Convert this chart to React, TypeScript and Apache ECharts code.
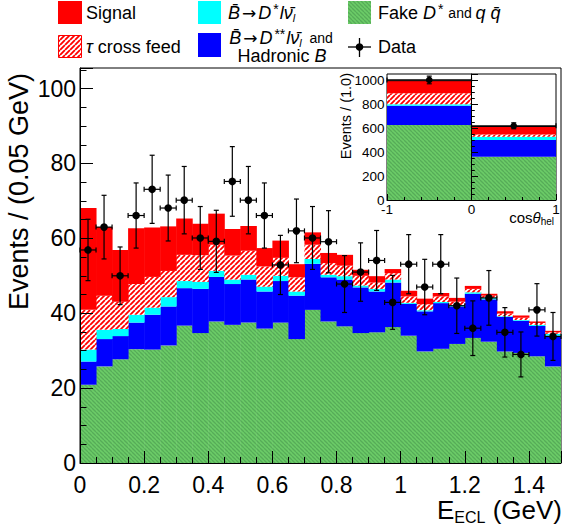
import React, { useEffect, useRef } from "react";
import * as echarts from "echarts";

const FONT = "'Liberation Sans', Arial, Helvetica, sans-serif";

// Main histogram: E_ECL bins (GeV)
const eEdges = [0, 0.05, 0.1, 0.15, 0.2, 0.25, 0.3, 0.35, 0.4, 0.45, 0.5, 0.55, 0.6, 0.65, 0.7, 0.75, 0.8, 0.85, 0.9, 0.95, 1.0, 1.05, 1.1, 1.15, 1.2, 1.25, 1.3, 1.35, 1.4, 1.45, 1.5];
// Cumulative (stacked) heights, bottom to top
const stackFake = [20.9, 25.8, 27.7, 30.4, 30.3, 31.4, 36.7, 34.7, 37.8, 36.9, 37.5, 35.9, 37.5, 33.1, 40.9, 37.8, 36.5, 34.7, 34.9, 36.3, 34.0, 29.8, 30.5, 31.8, 33.4, 32.4, 29.8, 29.4, 28.5, 25.8];
const stackHadB = [27.1, 33.1, 33.9, 37.5, 39.6, 41.8, 46.7, 46.5, 49.7, 47.8, 49.0, 45.8, 48.6, 44.7, 53.2, 49.6, 49.0, 46.9, 45.8, 48.2, 42.5, 40.5, 42.7, 41.8, 45.2, 43.7, 39.0, 38.0, 36.6, 34.0];
const stackDstar = [30.3, 35.6, 35.8, 39.6, 41.5, 44.3, 48.6, 48.4, 51.3, 49.0, 50.3, 47.1, 50.0, 45.8, 54.5, 50.3, 49.9, 47.4, 46.5, 49.0, 42.8, 40.8, 43.0, 42.2, 45.6, 44.1, 39.2, 38.2, 36.9, 34.5];
const stackTau = [40.9, 44.7, 43.1, 47.8, 49.7, 51.3, 55.6, 55.5, 58.3, 55.4, 56.7, 52.5, 54.8, 49.6, 58.3, 53.4, 52.7, 50.0, 48.2, 50.7, 44.5, 42.4, 44.5, 43.1, 46.5, 44.7, 39.9, 38.8, 37.4, 34.9];
const stackSignal = [68.1, 63.0, 56.9, 62.7, 62.9, 63.2, 65.3, 63.9, 66.6, 62.5, 63.3, 57.4, 59.4, 53.1, 61.6, 56.1, 55.6, 51.6, 49.9, 51.8, 46.0, 43.9, 45.4, 44.1, 47.3, 45.2, 40.5, 39.4, 37.8, 35.3];
const dataY = [56.9, 63.0, 50.0, 66.1, 73.1, 68.1, 70.2, 60.1, 59.2, 75.2, 70.2, 66.1, 52.9, 62.0, 60.1, 59.1, 47.8, 51.0, 54.1, 42.9, 53.1, 47.0, 53.1, 42.0, 36.0, 44.1, 34.9, 29.0, 40.9, 33.8];
const dataErr = [8.2, 8.5, 7.7, 8.7, 9.1, 8.8, 9.0, 8.4, 8.3, 9.3, 9.0, 8.7, 7.9, 8.5, 8.4, 8.3, 7.6, 7.8, 8.0, 7.2, 7.9, 7.4, 7.9, 7.4, 7.3, 7.3, 6.6, 6.0, 7.0, 6.4];

// Inset: cos(theta_hel) bins
const cosEdges = [-1, 0, 1];
const insetFake = [628, 363];
const insetHadB = [790, 503];
const insetDstar = [802, 531];
const insetTau = [894, 550];
const insetSignal = [1000, 616];
const insetData = [1006, 622];
const insetErr = [32, 25];

function makeHatch(bg: string, fg: string, size: number, lw: number, dir: string) {
  const c = document.createElement("canvas");
  c.width = size;
  c.height = size;
  const ctx = c.getContext("2d")!;
  ctx.fillStyle = bg;
  ctx.fillRect(0, 0, size, size);
  ctx.strokeStyle = fg;
  ctx.lineWidth = lw;
  ctx.beginPath();
  for (const k of [-size, 0, size]) {
    if (dir === "/") {
      ctx.moveTo(k, size);
      ctx.lineTo(k + size, 0);
    } else {
      ctx.moveTo(k, 0);
      ctx.lineTo(k + size, size);
    }
  }
  ctx.stroke();
  return c;
}

function histSeries(name: string, lo: number[] | null, hi: number[], fill: any, axis: number, edges: number[], outline = false) {
  return {
    type: "custom",
    name,
    xAxisIndex: axis,
    yAxisIndex: axis,
    silent: true,
    clip: true,
    z: 2,
    encode: { x: [0, 1], y: [2, 3] },
    data: hi.map((h, i) => [edges[i], edges[i + 1], lo ? lo[i] : 0, h]),
    renderItem: (params: any, api: any) => {
      const a = api.coord([api.value(0), api.value(3)]);
      const b = api.coord([api.value(1), api.value(2)]);
      const rect = {
        type: "rect",
        shape: { x: a[0], y: a[1], width: b[0] - a[0] + 0.5, height: b[1] - a[1] },
        style: { fill },
      };
      if (!outline) return rect;
      const i = params.dataIndex;
      const children: any[] = [
        rect,
        { type: "line", shape: { x1: a[0], y1: a[1], x2: b[0], y2: a[1] }, style: { stroke: "#000", lineWidth: 1 } },
      ];
      if (i > 0) {
        const p = api.coord([api.value(0), hi[i - 1]]);
        children.push({ type: "line", shape: { x1: a[0], y1: p[1], x2: a[0], y2: a[1] }, style: { stroke: "#000", lineWidth: 1 } });
      }
      return { type: "group", children };
    },
  };
}

function dataSeries(vals: number[], errs: number[], edges: number[], axis: number, r: number) {
  return {
    type: "custom",
    xAxisIndex: axis,
    yAxisIndex: axis,
    silent: true,
    z: 6,
    encode: { x: [0, 1], y: 2 },
    data: vals.map((v, i) => [edges[i], edges[i + 1], v, errs[i]]),
    renderItem: (params: any, api: any) => {
      const x0 = api.value(0), x1 = api.value(1), y = api.value(2), e = api.value(3);
      const xc = (x0 + x1) / 2;
      const c = api.coord([xc, y]);
      const t = api.coord([xc, y + e]);
      const b = api.coord([xc, y - e]);
      const l = api.coord([x0, y]);
      const rr = api.coord([x1, y]);
      const cap = 2.5;
      const ls = { stroke: "#000", lineWidth: 1.2 };
      return {
        type: "group",
        children: [
          { type: "line", shape: { x1: c[0], y1: t[1], x2: c[0], y2: b[1] }, style: ls },
          { type: "line", shape: { x1: l[0], y1: c[1], x2: rr[0], y2: c[1] }, style: ls },
          { type: "line", shape: { x1: c[0] - cap, y1: t[1], x2: c[0] + cap, y2: t[1] }, style: ls },
          { type: "line", shape: { x1: c[0] - cap, y1: b[1], x2: c[0] + cap, y2: b[1] }, style: ls },
          { type: "line", shape: { x1: l[0], y1: c[1] - cap, x2: l[0], y2: c[1] + cap }, style: ls },
          { type: "line", shape: { x1: rr[0], y1: c[1] - cap, x2: rr[0], y2: c[1] + cap }, style: ls },
          { type: "circle", shape: { cx: c[0], cy: c[1], r }, style: { fill: "#000" } },
        ],
      };
    },
  };
}

function axisCommon(fontSize: number, margin: number, tickLen: number, minorLen: number, split: number, showMax = false) {
  return {
    z: 10,
    axisLine: { show: true, lineStyle: { color: "#000", width: 1 } },
    axisTick: { show: true, inside: true, length: tickLen, lineStyle: { color: "#000", width: 1 } },
    minorTick: { show: true, splitNumber: split, length: minorLen, lineStyle: { color: "#000", width: 1 } },
    splitLine: { show: false },
    minorSplitLine: { show: false },
    axisLabel: { fontSize, fontFamily: FONT, color: "#000", margin, showMaxLabel: showMax, formatter: (v: number) => String(v) },
  };
}

export default function App() {
  const ref = useRef<HTMLDivElement>(null);
  useEffect(() => {
    if (!ref.current) return;
    const chart = echarts.init(ref.current, undefined, { renderer: "svg", width: 565, height: 528 });
    const red = "#ff0000";
    const cyan = "#00ffff";
    const blue = "#0000ff";
    const greenPat = { image: makeHatch("#6ccc68", "#56ac58", 4, 1.3, "\\"), repeat: "repeat" };
    const redPat = { image: makeHatch("#ffffff", "#ff0000", 5, 1.8, "/"), repeat: "repeat" };

    const it = { fontFamily: FONT, fontSize: 18, lineHeight: 18, fontStyle: "italic", fill: "#000" };
    const nm = { fontFamily: FONT, fontSize: 18, lineHeight: 18, fill: "#000" };
    const ar = { fontFamily: "'DejaVu Sans', sans-serif", fontSize: 17, lineHeight: 17, fill: "#000", padding: [0, 2, 0, 2] };
    const sp = { fontFamily: FONT, fontSize: 14, lineHeight: 14, fill: "#000", padding: [0, 1, 7, 2] };
    const sb = { fontFamily: FONT, fontSize: 11, lineHeight: 11, fontStyle: "italic", fill: "#000", padding: [10, 0, 0, 0] };
    const sm = { fontFamily: FONT, fontSize: 14, lineHeight: 14, fill: "#000" };
    const legendRich = { i: it, n: nm, a: ar, sp, sb, s: sm };
    const line2Rich = {
      i: { ...it, lineHeight: 15 },
      n: { ...nm, lineHeight: 15 },
    };

    const option: any = {
      animation: false,
      backgroundColor: "#fff",
      grid: [
        { left: 80, top: 68, width: 481, height: 395, show: true, borderColor: "#000", borderWidth: 1, backgroundColor: "transparent" },
        { left: 387, top: 74, width: 169, height: 126, show: true, borderColor: "#000", borderWidth: 1, backgroundColor: "#fff" },
      ],
      xAxis: [
        { type: "value", gridIndex: 0, min: 0, max: 1.5, interval: 0.2, ...axisCommon(23, 10, 12, 6, 4) },
        { type: "value", gridIndex: 1, min: -1, max: 1, interval: 1, ...axisCommon(13.5, 2, 6, 3, 5, true) },
      ],
      yAxis: [
        { type: "value", gridIndex: 0, min: 0, max: 105.5, interval: 20, ...axisCommon(23, 4, 13, 6.5, 4) },
        { type: "value", gridIndex: 1, min: 0, max: 1056, interval: 200, ...axisCommon(13.5, 2.5, 6.5, 3.3, 4) },
      ],
      series: [
        histSeries("Fake", null, stackFake, greenPat, 0, eEdges),
        histSeries("HadB", stackFake, stackHadB, blue, 0, eEdges),
        histSeries("Dstar", stackHadB, stackDstar, cyan, 0, eEdges),
        histSeries("Tau", stackDstar, stackTau, redPat, 0, eEdges),
        histSeries("Signal", stackTau, stackSignal, red, 0, eEdges),
        dataSeries(dataY, dataErr, eEdges, 0, 3.8),
        histSeries("iFake", null, insetFake, greenPat, 1, cosEdges),
        histSeries("iHadB", insetFake, insetHadB, blue, 1, cosEdges),
        histSeries("iDstar", insetHadB, insetDstar, cyan, 1, cosEdges),
        histSeries("iTau", insetDstar, insetTau, redPat, 1, cosEdges),
        histSeries("iSignal", insetTau, insetSignal, red, 1, cosEdges, true),
        dataSeries(insetData, insetErr, cosEdges, 1, 3.3),
      ],
      graphic: [
        // legend
        { type: "rect", shape: { x: 58, y: 1, width: 24, height: 23 }, style: { fill: red } },
        { type: "text", x: 86, y: 12.5, style: { text: "Signal", ...nm, align: "left", verticalAlign: "middle" } },
        { type: "rect", shape: { x: 58.5, y: 35.5, width: 23, height: 22 }, style: { fill: redPat, stroke: red, lineWidth: 1 } },
        { type: "text", x: 86, y: 47, style: { text: "{i|τ}{n| cross feed}", rich: legendRich, align: "left", verticalAlign: "middle" } },
        { type: "rect", shape: { x: 198, y: 1, width: 23, height: 23 }, style: { fill: cyan } },
        { type: "text", x: 228, y: 12.5, style: { text: "{i|B̄}{a|→}{i|D}{sp|*}{i|lν̄}{sb|l}", rich: legendRich, align: "left", verticalAlign: "middle" } },
        { type: "rect", shape: { x: 198, y: 33, width: 23, height: 24 }, style: { fill: blue } },
        { type: "text", x: 281, y: 37.5, style: { text: "{i|B̄}{a|→}{i|D}{sp|**}{i|lν̄}{sb|l}{s|  and}", rich: legendRich, align: "center", verticalAlign: "middle" } },
        { type: "text", x: 282, y: 55.5, style: { text: "{n|Hadronic }{i|B}", rich: line2Rich, align: "center", verticalAlign: "middle" } },
        { type: "rect", shape: { x: 348, y: 1, width: 23, height: 23 }, style: { fill: greenPat } },
        { type: "text", x: 378, y: 12.5, style: { text: "{n|Fake }{i|D}{sp|*}{s| and }{i|q q̄}", rich: legendRich, align: "left", verticalAlign: "middle" } },
        { type: "line", shape: { x1: 348, y1: 47, x2: 371, y2: 47 }, style: { stroke: "#000", lineWidth: 1.3 } },
        { type: "line", shape: { x1: 359.5, y1: 38, x2: 359.5, y2: 57 }, style: { stroke: "#000", lineWidth: 1.3 } },
        { type: "circle", shape: { cx: 359.5, cy: 47, r: 3.8 }, style: { fill: "#000" } },
        { type: "text", x: 378, y: 47, style: { text: "Data", ...nm, align: "left", verticalAlign: "middle" } },
        // axis titles
        { type: "text", x: 19, y: 73, rotation: Math.PI / 2, style: { text: "Events / (0.05 GeV)", fontFamily: FONT, fontSize: 27, fill: "#000", align: "right", verticalAlign: "middle" } },
        { type: "text", x: 562, y: 510, style: {
            text: "{n|E}{b|ECL}{n| (GeV)}", align: "right", verticalAlign: "middle",
            rich: { n: { fontFamily: FONT, fontSize: 26, fill: "#000" }, b: { fontFamily: FONT, fontSize: 16, fill: "#000", padding: [15, 0, 0, 0] } } } },
        { type: "text", x: 345.5, y: 73, rotation: Math.PI / 2, style: { text: "Events / (1.0)", fontFamily: FONT, fontSize: 14.5, fill: "#000", align: "right", verticalAlign: "middle" } },
        { type: "text", x: 554, y: 217, style: {
            text: "{n|cos}{i|θ}{b|hel}", align: "right", verticalAlign: "middle",
            rich: {
              n: { fontFamily: FONT, fontSize: 15, fill: "#000" },
              i: { fontFamily: FONT, fontSize: 15, fontStyle: "italic", fill: "#000" },
              b: { fontFamily: FONT, fontSize: 10, fill: "#000", padding: [9, 0, 0, 0] },
            } } },
      ],
    };
    chart.setOption(option);
    return () => chart.dispose();
  }, []);
  return <div ref={ref} style={{ position: "absolute", left: 0, top: 0, width: 565, height: 528 }} />;
}
